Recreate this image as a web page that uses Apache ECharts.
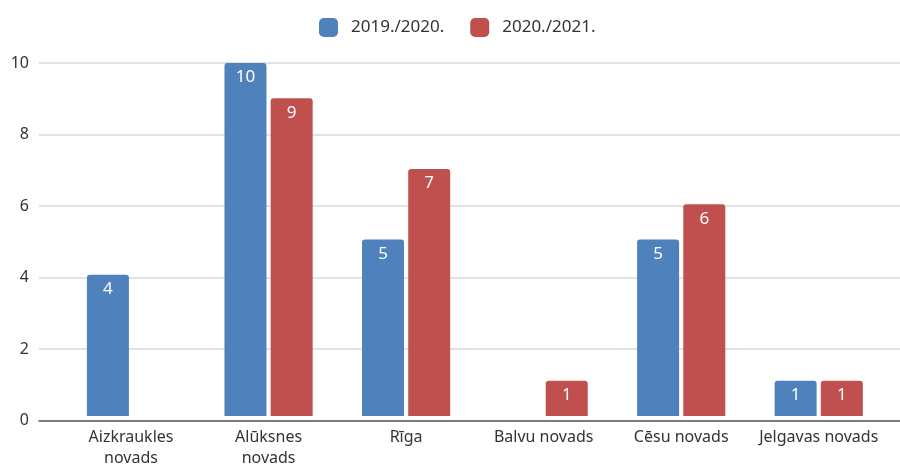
<!DOCTYPE html>
<html>
<head>
<meta charset="utf-8">
<script src="https://cdn.jsdelivr.net/npm/echarts@6/dist/echarts.min.js"></script>
<style>
  html, body { margin: 0; padding: 0; background: #fff; }
  #chart { width: 900px; height: 469px; }
</style>
</head>
<body>
<div id="chart"></div>
<script>
// Regions (x axis), with line breaks for the long names
const categories = ['Aizkraukles\nnovads', 'Alūksnes\nnovads', 'Rīga', 'Balvu novads', 'Cēsu novads', 'Jelgavas novads'];
// Counts per school year; null = no bar
const seriesNames = ['2019./2020.', '2020./2021.'];
const values2019 = [4, 10, 5, null, 5, 1];
const values2020 = [null, 9, 7, 1, 6, 1];
// Value axis range and step
const yMin = 0;
const yMax = 10;
const yStep = 2;

const FONT = '"Noto Sans", "DejaVu Sans", sans-serif';
const BLUE = '#4F81BD';
const RED = '#C0504D';
const TOP = 63;
const BOTTOM = 469 - 420.5;

function barSeries(name, data, color) {
  return {
    name: name,
    type: 'bar',
    xAxisIndex: 1,
    yAxisIndex: 1,
    data: data,
    barWidth: 42,
    barGap: '10%',
    itemStyle: { color: color, borderRadius: [3, 3, 0, 0] },
    label: {
      show: true,
      position: 'insideTop',
      distance: 6,
      color: '#fff',
      fontFamily: FONT,
      fontSize: 17
    },
    z: 3
  };
}

const chart = echarts.init(document.getElementById('chart'), null, { renderer: 'canvas' });
chart.setOption({
  animation: false,
  backgroundColor: '#fff',
  legend: {
    top: 13,
    left: 314,
    itemWidth: 19,
    itemHeight: 19,
    itemGap: 26,
    icon: 'roundRect',
    textStyle: { color: '#333', fontFamily: FONT, fontSize: 17, padding: [0, 0, 0, 8] },
    data: seriesNames
  },
  grid: [
    // background grid: gridlines and the baseline span the full width
    { left: 39, right: 0, top: TOP, bottom: BOTTOM },
    // bar area
    { left: 62.25, right: 12.5, top: TOP, bottom: BOTTOM }
  ],
  xAxis: [
    {
      gridIndex: 0, type: 'value', min: 0, max: 1,
      axisLine: { show: true, lineStyle: { color: '#595959', width: 1.5 } },
      axisTick: { show: false }, axisLabel: { show: false }, splitLine: { show: false },
      z: 4
    },
    {
      gridIndex: 1, type: 'category', data: categories,
      axisLine: { show: false }, axisTick: { show: false },
      axisLabel: { color: '#333', fontFamily: FONT, fontSize: 16, margin: 11, lineHeight: 21, interval: 0 }
    }
  ],
  yAxis: [
    {
      gridIndex: 0, type: 'value', min: yMin, max: yMax, interval: yStep,
      axisLine: { show: false }, axisTick: { show: false },
      axisLabel: { color: '#333', fontFamily: FONT, fontSize: 16, margin: 10 },
      splitLine: { show: true, lineStyle: { color: '#d9d9d9', width: 1.5 } }
    },
    {
      gridIndex: 1, type: 'value', min: yMin, max: yMax, interval: yStep,
      show: false, splitLine: { show: false }
    }
  ],
  series: [
    barSeries(seriesNames[0], values2019, BLUE),
    barSeries(seriesNames[1], values2020, RED)
  ]
});
</script>
</body>
</html>
